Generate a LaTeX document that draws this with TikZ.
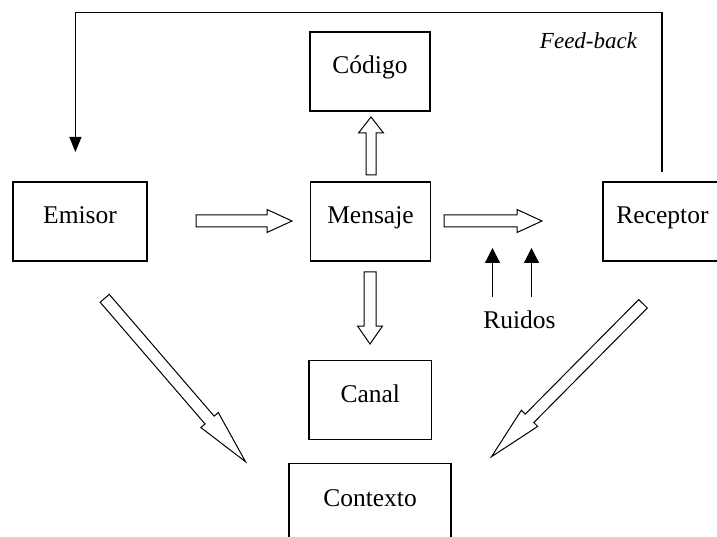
\documentclass[tikz,border=0pt]{standalone}
\usepackage{fontspec}
\setmainfont{Liberation Serif}
\usetikzlibrary{calc,arrows.meta}
\tikzset{
  box/.style={draw, line width=1.2pt, inner sep=0pt, text height=0.68em, text depth=0.22em,
    font=\fontsize{25.5}{30}\selectfont},
  lbl/.style={inner sep=0pt, text height=0.68em, text depth=0.22em, font=\fontsize{25.5}{30}\selectfont},
  hollowstyle/.style={draw, fill=white, line width=1pt, line join=miter},
  fb/.style={line width=1.2pt},
  noise/.style={line width=1.2pt, -{Triangle[width=15pt,length=15pt]}}
}
\newcommand\hollowarrow[5]{%
  \coordinate (hb) at ($(#2)!#3!(#1)$);
  \draw[hollowstyle] ($(#1)!#4!90:(#2)$) -- ($(hb)!#4!90:(#2)$) -- ($(hb)!#5!90:(#2)$) -- (#2)
    -- ($(hb)!#5!-90:(#2)$) -- ($(hb)!#4!-90:(#2)$) -- ($(#1)!#4!-90:(#2)$) -- cycle;
}
\begin{document}
\begin{tikzpicture}[x=1pt,y=-1pt]
\clip (0,0) rectangle (717,537);
\fill[white] (0,0) rectangle (717,537);
% boxes
\node[box, minimum width=134pt, minimum height=79pt] (emi) at (80,221.5) {Emisor};
\node[box, minimum width=120.5pt, minimum height=79pt] (men) at (370.5,221.5) {Mensaje};
\node[box, minimum width=120pt, minimum height=79pt] (cod) at (370,71.5) {Código};
\node[box, minimum width=119pt, minimum height=79pt] (rec) at (662.5,221.5) {Receptor};
\node[box, minimum width=122.5pt, minimum height=78.5pt] (can) at (370.3,400) {Canal};
\node[box, minimum width=162pt, minimum height=81pt] (con) at (370,504) {Contexto};
% labels
\node[lbl] (rui) at (519.5,326) {Ruidos};
\node[inner sep=0pt, font=\fontsize{23}{28}\selectfont\itshape, text height=0.68em, text depth=0.22em] (fbl) at (588.5,46) {Feed-back};
% connector end points
\coordinate (em-t) at (196,221);  \coordinate (em-h) at (292,221);
\coordinate (mr-t) at (444,221);  \coordinate (mr-h) at (542,221);
\coordinate (mc-t) at (371,175);  \coordinate (mc-h) at (371,117);
\coordinate (mk-t) at (370,272);  \coordinate (mk-h) at (370,344);
\coordinate (ld-t) at (104.7,298.3); \coordinate (ld-h) at (245.5,461.7);
\coordinate (rd-t) at (643,303.8);   \coordinate (rd-h) at (491.5,456.7);
% hollow arrows
\hollowarrow{em-t}{em-h}{25pt}{6pt}{11.5pt}
\hollowarrow{mr-t}{mr-h}{25pt}{6pt}{11.5pt}
\hollowarrow{mc-t}{mc-h}{16pt}{5pt}{12.5pt}
\hollowarrow{mk-t}{mk-h}{18pt}{6pt}{12.5pt}
\hollowarrow{ld-t}{ld-h}{55pt}{6pt}{11.5pt}
\hollowarrow{rd-t}{rd-h}{54pt}{6pt}{11.5pt}
% noise arrows
\coordinate (n1) at (492.5,297); \coordinate (n1t) at (492.5,248);
\coordinate (n2) at (531.5,297); \coordinate (n2t) at (531.5,248);
\draw[noise] (n1) -- (n1t);
\draw[noise] (n2) -- (n2t);
% feedback
\coordinate (fbs) at (662,172);
\coordinate (fbc1) at (662,12.7);
\coordinate (fbc2) at (75.4,12.7);
\coordinate (fbe) at (75.4,152);
\draw[fb, -{Triangle[width=12pt,length=15pt]}] (fbs) -- (fbc1) -- (fbc2) -- (fbe);
\end{tikzpicture}
\end{document}
